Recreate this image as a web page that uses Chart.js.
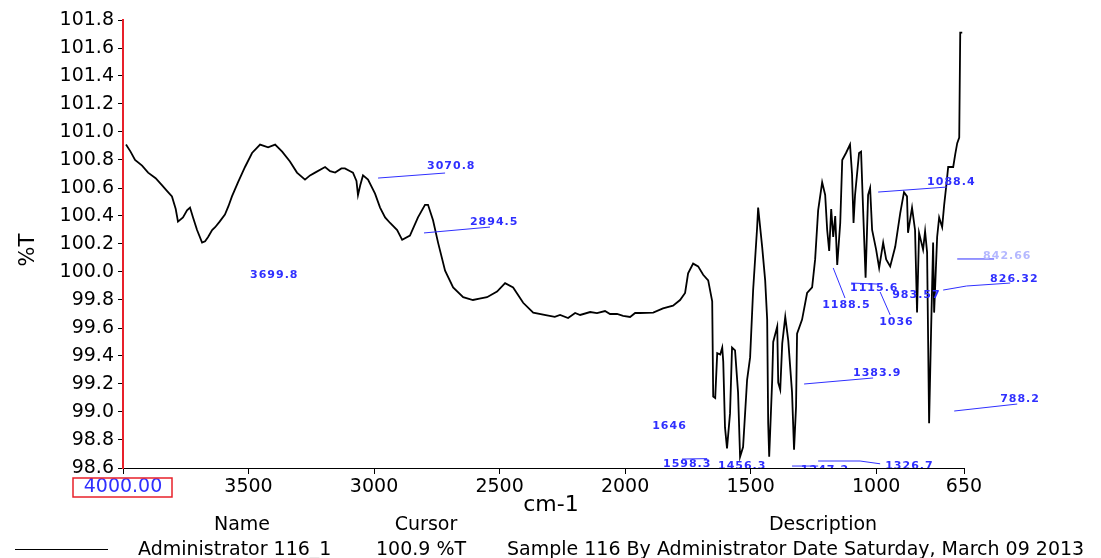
<!DOCTYPE html>
<html>
<head>
<meta charset="utf-8">
<script src="https://cdn.jsdelivr.net/npm/chart.js@4.4.1/dist/chart.umd.min.js"></script>
<style>
  html, body { margin: 0; padding: 0; background: #fff; }
  #wrap { width: 1101px; height: 558px; position: relative; }
</style>
</head>
<body>
<div id="wrap"><canvas id="spectrum"></canvas></div>
<script>
// IR spectrum, sample 116 (%T vs wavenumber)

const wavenumbers = [
  3988, 3970, 3952, 3924, 3900, 3870, 3845, 3825, 3805, 3790, 3781, 3761, 3745, 3733, 3721, 3705,
  3685, 3673, 3661, 3645, 3633, 3615, 3594, 3580, 3566, 3542, 3514, 3486, 3454, 3422, 3394, 3366,
  3335, 3307, 3275, 3255, 3235, 3195, 3175, 3155, 3130, 3116, 3095, 3084, 3070, 3064, 3055, 3044,
  3024, 2996, 2976, 2956, 2936, 2908, 2888, 2857, 2825, 2797, 2785, 2765, 2745, 2717, 2685, 2645,
  2606, 2580, 2550, 2510, 2478, 2446, 2406, 2366, 2311, 2280, 2259, 2227, 2199, 2179, 2139, 2112,
  2080, 2060, 2032, 2008, 1980, 1960, 1940,
  1888, 1849, 1809, 1781, 1761, 1749, 1729, 1709, 1689, 1669, 1653, 1649, 1641, 1633,
  1621, 1613, 1609, 1602, 1594, 1582, 1574, 1562, 1550, 1542, 1530, 1514, 1502, 1490, 1474, 1470,
  1454, 1442, 1434, 1430, 1426, 1414, 1410, 1394, 1390, 1382, 1374, 1362, 1350, 1335, 1327, 1319,
  1315, 1295, 1275, 1255, 1243, 1231, 1215, 1203, 1195, 1187, 1179, 1171, 1163, 1155, 1143, 1135,
  1120, 1104, 1096, 1090, 1084, 1068, 1060, 1052, 1042, 1032, 1024, 1016, 1000, 988, 972, 960,
  944, 924, 904, 889, 877, 873, 857, 845, 837, 829, 813, 805, 797, 789, 781, 773,
  769, 757, 749, 737, 729, 721, 713, 693, 685, 677, 669, 665, 657
];

const transmittance = [
  100.91, 100.86, 100.80, 100.76, 100.71, 100.67, 100.62, 100.58, 100.54, 100.45, 100.36, 100.39, 100.44, 100.46, 100.39, 100.30,
  100.21, 100.22, 100.25, 100.30, 100.32, 100.36, 100.41, 100.47, 100.54, 100.64, 100.75, 100.85, 100.91, 100.89, 100.91, 100.86,
  100.79, 100.71, 100.66, 100.69, 100.71, 100.75, 100.72, 100.71, 100.74, 100.74, 100.72, 100.71, 100.65, 100.55, 100.62, 100.69,
  100.66, 100.56, 100.46, 100.39, 100.35, 100.30, 100.23, 100.26, 100.39, 100.48, 100.48, 100.37, 100.21, 100.01, 99.89, 99.82,
  99.80, 99.81, 99.82, 99.86, 99.92, 99.89, 99.78, 99.71, 99.69, 99.68, 99.693, 99.671, 99.707, 99.693, 99.714, 99.707,
  99.721, 99.70, 99.70, 99.686, 99.679, 99.707, 99.707,
  99.71, 99.74, 99.76, 99.80, 99.85, 99.99, 100.06, 100.04, 99.98, 99.94, 99.79, 99.11, 99.10, 99.42,
  99.41, 99.46, 99.36, 98.89, 98.74, 98.99, 99.46, 99.44, 99.14, 98.68, 98.75, 99.23, 99.39, 99.87, 100.32, 100.46,
  100.18, 99.94, 99.66, 98.92, 98.68, 99.23, 99.50, 99.61, 99.21, 99.16, 99.49, 99.68, 99.51, 99.14, 98.73, 99.04,
  99.56, 99.66, 99.85, 99.89, 100.09, 100.44, 100.64, 100.55, 100.30, 100.15, 100.45, 100.25, 100.40, 100.05, 100.35, 100.80,
  100.85, 100.91, 100.70, 100.35, 100.55, 100.85, 100.86, 100.45, 99.96, 100.55, 100.60, 100.30, 100.16, 100.03, 100.21, 100.09,
  100.04, 100.18, 100.42, 100.57, 100.54, 100.28, 100.46, 100.30, 99.71, 100.28, 100.16, 100.29, 100.14, 98.92, 99.59, 100.21,
  99.71, 100.25, 100.39, 100.32, 100.48, 100.61, 100.75, 100.75, 100.84, 100.92, 100.96, 101.71, 101.71
];

const xTicks = [4000, 3500, 3000, 2500, 2000, 1500, 1000, 650];
const yTicks = [98.6, 98.8, 99.0, 99.2, 99.4, 99.6, 99.8, 100.0, 100.2, 100.4, 100.6, 100.8, 101.0, 101.2, 101.4, 101.6, 101.8];

// peak pick labels: text anchor and leader line, in data units
const peakLabels = [
  { text: '3070.8', at: [2789, 100.757], line: [[2984, 100.671], [2717, 100.707]] },
  { text: '2894.5', at: [2618, 100.357], line: [[2801, 100.279], [2538, 100.321]] },
  { text: '3699.8', at: [3494, 99.979] },
  { text: '1088.4', at: [797, 100.643], line: [[992, 100.571], [717, 100.607]] },
  { text: '1115.6', at: [1104, 99.886], line: [[1100, 99.921], [996, 99.914]] },
  { text: '1188.5', at: [1215, 99.764], line: [[1171, 100.029], [1124, 99.814]] },
  { text: '1036', at: [988, 99.643], line: [[984, 99.857], [944, 99.693]] },
  { text: '983.57', at: [936, 99.836] },
  { text: '826.32', at: [546, 99.95], line: [[733, 99.871], [640, 99.9], [466, 99.921]] },
  { text: '842.66', at: [574, 100.114], line: [[677, 100.093], [530, 100.093]], faint: true },
  { text: '1383.9', at: [1092, 99.279], line: [[1287, 99.2], [1012, 99.243]] },
  { text: '788.2', at: [506, 99.093], line: [[689, 99.007], [438, 99.057]] },
  { text: '1646', at: [1892, 98.9] },
  { text: '1598.3', at: [1849, 98.629], line: [[1773, 98.664], [1673, 98.667]] },
  { text: '1456.3', at: [1630, 98.614] },
  { text: '1247.2', at: [1300, 98.585], line: [[1335, 98.614], [1231, 98.614]] },
  { text: '1326.7', at: [964, 98.614], line: [[1231, 98.65], [1064, 98.65], [984, 98.63]] }
];

const BLUE = '#2f2fff';
const FONT = '"DejaVu Sans", sans-serif';

const textPlugin = {
  id: 'spectrumText',
  afterDraw(chart) {
    const { ctx, chartArea, scales: { x, y } } = chart;
    ctx.save();

    // peak labels, clipped at the x axis
    ctx.beginPath();
    ctx.rect(chartArea.left, 0, chart.width - chartArea.left, chartArea.bottom);
    ctx.clip();
    ctx.lineWidth = 1;
    ctx.textAlign = 'left';
    ctx.textBaseline = 'middle';
    ctx.font = 'bold 11px ' + FONT;
    ctx.letterSpacing = '1px';
    peakLabels.forEach(p => {
      if (p.line) {
        ctx.strokeStyle = BLUE;
        ctx.beginPath();
        p.line.forEach((pt, i) => {
          const px = x.getPixelForValue(pt[0]);
          const py = y.getPixelForValue(pt[1]);
          if (i === 0) ctx.moveTo(px, py); else ctx.lineTo(px, py);
        });
        ctx.stroke();
      }
      ctx.fillStyle = p.faint ? '#b4b8ff' : BLUE;
      ctx.fillText(p.text, x.getPixelForValue(p.at[0]), y.getPixelForValue(p.at[1]));
    });
    ctx.restore();

    ctx.save();
    ctx.letterSpacing = '0px';
    // red box round the start value
    const x0 = x.getPixelForValue(4000);
    ctx.strokeStyle = '#e8202a';
    ctx.lineWidth = 1.5;
    ctx.strokeRect(x0 - 50, chartArea.bottom + 10, 99, 19);

    // axis titles
    ctx.fillStyle = '#000';
    ctx.textAlign = 'center';
    ctx.textBaseline = 'middle';
    ctx.font = '22px ' + FONT;
    ctx.fillText('cm-1', 551, 505);
    ctx.save();
    ctx.translate(29, 250);
    ctx.rotate(-Math.PI / 2);
    ctx.font = '21px ' + FONT;
    ctx.fillText('%T', 0, 0);
    ctx.restore();

    // legend table
    ctx.font = '19px ' + FONT;
    ctx.fillText('Name', 242, 525);
    ctx.fillText('Cursor', 426, 525);
    ctx.fillText('Description', 823, 525);
    ctx.textAlign = 'left';
    ctx.fillText('Administrator 116_1', 138, 550);
    ctx.fillText('100.9 %T', 376, 550);
    ctx.fillText('Sample 116 By Administrator Date Saturday, March 09 2013', 507, 550);
    ctx.strokeStyle = '#000';
    ctx.lineWidth = 1;
    ctx.beginPath();
    ctx.moveTo(15, 549.5);
    ctx.lineTo(108, 549.5);
    ctx.stroke();
    ctx.restore();
  }
};

const points = wavenumbers.map((w, i) => ({ x: w, y: transmittance[i] }));

new Chart(document.getElementById('spectrum'), {
  type: 'line',
  data: {
    datasets: [{
      data: points,
      borderColor: '#000',
      borderWidth: 1.8,
      pointRadius: 0,
      tension: 0,
      fill: false
    }]
  },
  options: {
    responsive: true,
    maintainAspectRatio: false,
    animation: false,
    layout: { padding: { left: 0, top: 20, right: 137, bottom: 0 } },
    plugins: { legend: { display: false }, tooltip: { enabled: false } },
    scales: {
      x: {
        type: 'linear',
        reverse: true,
        min: 650,
        max: 4000,
        afterBuildTicks: s => { s.ticks = xTicks.map(v => ({ value: v })); },
        afterFit: s => { s.height = 90; },
        grid: { drawOnChartArea: false, drawTicks: true, tickLength: 6, color: '#000' },
        border: { color: '#000', width: 1 },
        ticks: {
          autoSkip: false,
          maxRotation: 0,
          padding: 2,
          font: { family: FONT, size: 19 },
          color: ctx => ctx.tick && ctx.tick.value === 4000 ? BLUE : '#000',
          callback: v => v === 4000 ? '4000.00' : String(v)
        }
      },
      y: {
        min: 98.6,
        max: 101.8,
        afterBuildTicks: s => { s.ticks = yTicks.map(v => ({ value: v })); },
        afterFit: s => { s.width = 123; },
        grid: { drawOnChartArea: false, drawTicks: true, tickLength: 5, color: '#000' },
        border: { color: '#e8202a', width: 2 },
        ticks: {
          autoSkip: false,
          padding: 4,
          font: { family: FONT, size: 19 },
          color: '#000',
          callback: v => Number(v).toFixed(1)
        }
      }
    }
  },
  plugins: [textPlugin]
});
</script>
</body>
</html>
